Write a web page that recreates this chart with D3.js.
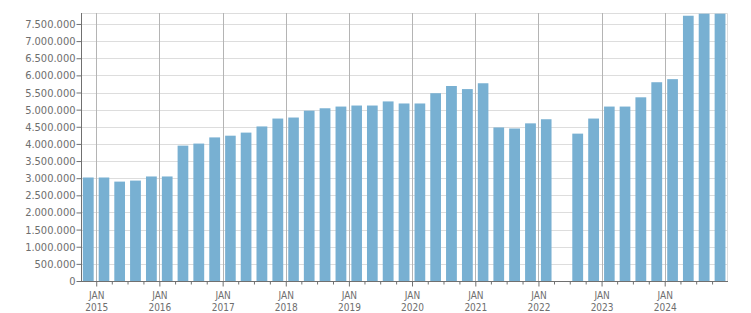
<!DOCTYPE html>
<html>
<head>
<meta charset="utf-8">
<script src="https://cdn.jsdelivr.net/npm/d3@7"></script>
<style>
  body { margin: 0; background: #fff; }
  text { font-family: "DejaVu Sans Condensed", "DejaVu Sans", sans-serif; fill: #6e6e6e; }
</style>
</head>
<body>
<div id="chart"></div>
<script>
// quarter start dates and values (null = no data)
const quarters = [
  '2014-10', '2015-01', '2015-04', '2015-07', '2015-10', '2016-01', '2016-04', '2016-07',
  '2016-10', '2017-01', '2017-04', '2017-07', '2017-10', '2018-01', '2018-04', '2018-07',
  '2018-10', '2019-01', '2019-04', '2019-07', '2019-10', '2020-01', '2020-04', '2020-07',
  '2020-10', '2021-01', '2021-04', '2021-07', '2021-10', '2022-01', '2022-04', '2022-07',
  '2022-10', '2023-01', '2023-04', '2023-07', '2023-10', '2024-01', '2024-04', '2024-07',
  '2024-10'
];
const values = [
  3020000, 3020000, 2900000, 2930000, 3050000, 3050000, 3950000, 4010000,
  4190000, 4240000, 4330000, 4510000, 4740000, 4770000, 4970000, 5040000,
  5090000, 5120000, 5120000, 5240000, 5180000, 5180000, 5480000, 5690000,
  5600000, 5770000, 4480000, 4450000, 4600000, 4720000, null, 4300000,
  4740000, 5090000, 5090000, 5360000, 5800000, 5890000, 7740000, 7800000,
  7800000
];
const yTicks = [0, 500000, 1000000, 1500000, 2000000, 2500000, 3000000, 3500000,
  4000000, 4500000, 5000000, 5500000, 6000000, 6500000, 7000000, 7500000];
const monthLabel = 'JAN';

const width = 751, height = 313;
const margin = { top: 13, right: 23, bottom: 32, left: 81 };

const parse = d3.timeParse('%Y-%m');
const data = quarters.map((q, i) => ({ start: parse(q), value: values[i] }));

const x = d3.scaleTime()
  .domain([new Date(2014, 9, 5), new Date(2025, 0, 1)])
  .range([margin.left, width - margin.right]);

const y = d3.scaleLinear()
  .domain([0, 7820000])
  .range([height - margin.bottom, margin.top]);

const fmt = d3.formatLocale({ decimal: ',', thousands: '.', grouping: [3], currency: ['', ''] }).format(',.0f');

const svg = d3.select('#chart').append('svg')
  .attr('width', width).attr('height', height);

const x0 = margin.left, x1 = width - margin.right;
const yb = height - margin.bottom, yt = margin.top;

// horizontal grid
svg.append('g')
  .selectAll('line')
  .data(yTicks.slice(1))
  .join('line')
  .attr('x1', x0).attr('x2', x1)
  .attr('y1', d => Math.round(y(d)) + 0.5).attr('y2', d => Math.round(y(d)) + 0.5)
  .attr('stroke', '#dddddd');

// frame top / right
svg.append('path')
  .attr('d', `M${x0},${yt + 0.5}H${x1 - 0.5}V${yb}`)
  .attr('fill', 'none').attr('stroke', '#dddddd');

// vertical grid at years (inside the domain only)
const years = d3.timeYear.range(x.domain()[0], x.domain()[1]);
svg.append('g')
  .selectAll('line')
  .data(years)
  .join('line')
  .attr('x1', d => Math.round(x(d)) + 0.5).attr('x2', d => Math.round(x(d)) + 0.5)
  .attr('y1', yt).attr('y2', yb)
  .attr('stroke', '#b4b4b4');

// bars
const qw = d => x(d3.timeMonth.offset(d.start, 3)) - x(d.start);
svg.append('g')
  .selectAll('rect')
  .data(data.filter(d => d.value != null))
  .join('rect')
  .attr('x', d => x(d.start) + qw(d) * 0.16)
  .attr('width', d => qw(d) * 0.68)
  .attr('y', d => y(d.value))
  .attr('height', d => yb - y(d.value))
  .attr('fill', '#78b0d2');

// y axis
svg.append('g')
  .attr('transform', `translate(${x0 + 0.5},0)`)
  .call(d3.axisLeft(y).tickValues(yTicks).tickFormat(fmt).tickSize(5).tickSizeOuter(0))
  .call(g => g.select('.domain').attr('stroke', '#707070').attr('d', `M0,${yt}V${yb}`))
  .call(g => g.selectAll('.tick line').attr('stroke', '#707070'))
  .call(g => g.selectAll('.tick text').attr('x', -6).attr('font-size', 11)
    .style('font-family', '"DejaVu Sans Condensed", "DejaVu Sans", sans-serif').attr('fill', '#6e6e6e'));

// x axis: minor quarter ticks
const quarterTicks = d3.timeMonth.every(3).range(x.domain()[0], x.domain()[1])
  .filter(d => d.getMonth() !== 0);
svg.append('g')
  .attr('transform', `translate(0,${yb + 0.5})`)
  .call(d3.axisBottom(x).tickValues(quarterTicks).tickFormat('').tickSize(3).tickSizeOuter(0))
  .call(g => g.select('.domain').attr('stroke', '#707070').attr('d', `M${x0},0H${x1}`))
  .call(g => g.selectAll('.tick line').attr('stroke', '#707070'));

// x axis: year ticks and labels
const xAxis = svg.append('g')
  .attr('transform', `translate(0,${yb + 0.5})`)
  .call(d3.axisBottom(x).tickValues(years).tickFormat('').tickSize(5).tickSizeOuter(0))
  .call(g => g.select('.domain').remove())
  .call(g => g.selectAll('.tick line').attr('stroke', '#707070'));

xAxis.selectAll('.tick').each(function (d) {
  const t = d3.select(this).select('text')
    .attr('y', 0).attr('dy', null).attr('font-size', 10)
    .style('font-family', '"DejaVu Sans Condensed", "DejaVu Sans", sans-serif').attr('fill', '#6e6e6e');
  t.append('tspan').attr('x', 0).attr('y', 17).text(monthLabel);
  t.append('tspan').attr('x', 0).attr('y', 29).text(d.getFullYear());
});
</script>
</body>
</html>
